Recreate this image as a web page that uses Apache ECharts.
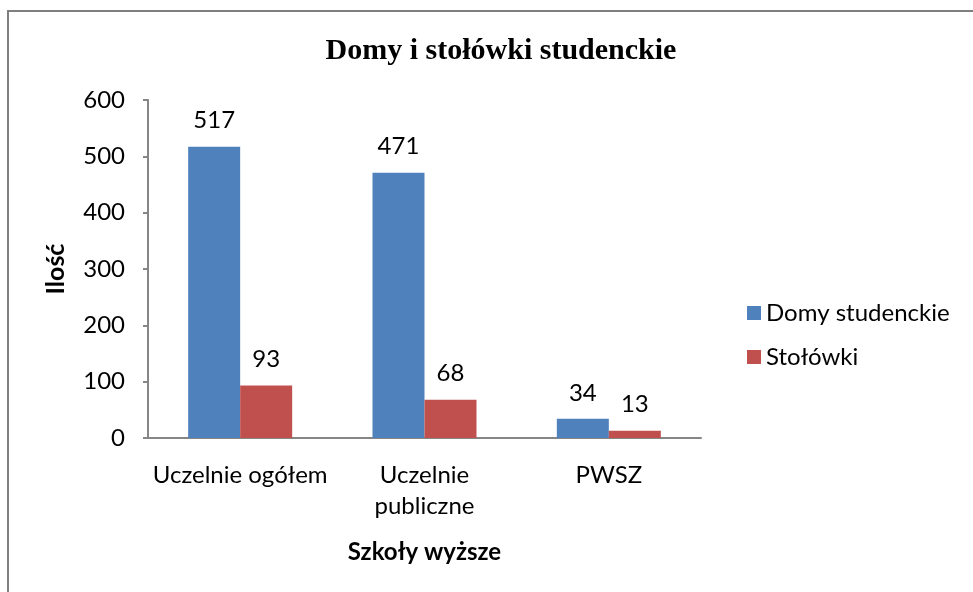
<!DOCTYPE html>
<html>
<head>
<meta charset="utf-8">
<script src="https://cdn.jsdelivr.net/npm/echarts@6/dist/echarts.min.js"></script>
<style>
  html, body { margin: 0; padding: 0; background: #fff; }
  #chart { width: 973px; height: 592px; }
</style>
</head>
<body>
<div id="chart"></div>
<script>
const categories = ['Uczelnie ogółem', 'Uczelnie\npubliczne', 'PWSZ']
const domy = [517, 471, 34]
const stolowki = [93, 68, 13]
const yTicks = { min: 0, max: 600, interval: 100 }

const font = 'Lato, "Open Sans", sans-serif'
const axisGray = '#868686'

const chart = echarts.init(document.getElementById('chart'))

const labelStyle = {
  show: true,
  position: 'top',
  distance: 14,
  color: '#000',
  fontFamily: font,
  fontSize: 24
}

chart.setOption({
  animation: false,
  backgroundColor: '#fff',
  title: {
    text: 'Domy i stołówki studenckie',
    left: 496,
    textAlign: 'center',
    top: 31,
    textStyle: {
      fontFamily: '"Liberation Serif", serif',
      fontWeight: 'bold',
      fontSize: 30,
      color: '#000'
    }
  },
  legend: {
    orient: 'vertical',
    left: 742,
    top: 296,
    itemWidth: 14,
    itemHeight: 14,
    itemGap: 20,
    icon: 'rect',
    textStyle: { fontFamily: font, fontSize: 24, color: '#000' },
    data: ['Domy studenckie', 'Stołówki']
  },
  grid: { left: 148, right: 272, top: 100, bottom: 154 },
  xAxis: {
    type: 'category',
    data: categories,
    name: 'Szkoły wyższe',
    nameLocation: 'middle',
    nameGap: 102,
    nameTextStyle: { fontFamily: font, fontSize: 24, fontWeight: 'bold', color: '#000' },
    axisLine: { lineStyle: { color: axisGray, width: 2 } },
    axisTick: { length: 7, lineStyle: { color: axisGray, width: 2 } },
    axisLabel: { interval: 0, fontFamily: font, fontSize: 24, color: '#000', margin: 22, lineHeight: 31 }
  },
  yAxis: {
    type: 'value',
    min: yTicks.min,
    max: yTicks.max,
    interval: yTicks.interval,
    name: 'Ilość',
    nameLocation: 'middle',
    nameGap: 80,
    nameRotate: 90,
    nameTextStyle: { fontFamily: font, fontSize: 25, fontWeight: 'bold', color: '#000' },
    splitLine: { show: false },
    axisLine: { show: true, lineStyle: { color: axisGray, width: 2 } },
    axisTick: { show: true, length: 5, lineStyle: { color: axisGray, width: 2 } },
    axisLabel: { fontFamily: font, fontSize: 24, color: '#000', margin: 23 }
  },
  series: [
    {
      name: 'Domy studenckie',
      type: 'bar',
      data: domy,
      barWidth: 52,
      barGap: '0%',
      itemStyle: { color: '#4F81BD' },
      label: labelStyle
    },
    {
      name: 'Stołówki',
      type: 'bar',
      data: stolowki,
      barWidth: 52,
      itemStyle: { color: '#C0504D' },
      label: labelStyle
    }
  ],
  graphic: [
    {
      type: 'rect',
      shape: { x: 8, y: 11, width: 2000, height: 2000 },
      style: { fill: 'none', stroke: '#7f7f7f', lineWidth: 2 },
      silent: true
    }
  ]
})
</script>
</body>
</html>
